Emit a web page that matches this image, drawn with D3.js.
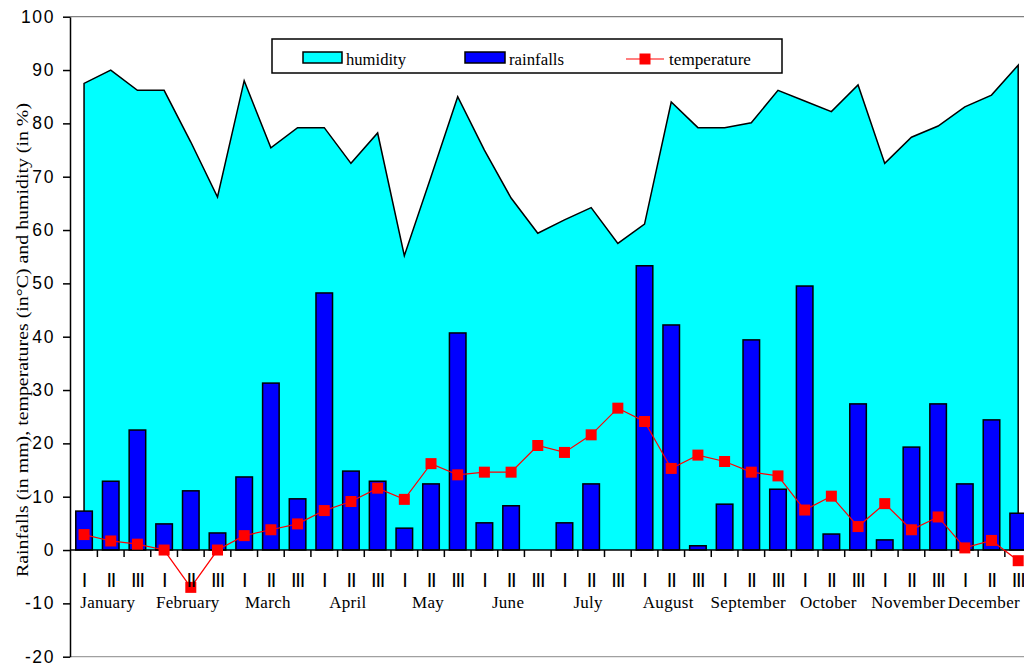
<!DOCTYPE html>
<html>
<head>
<meta charset="utf-8">
<script src="https://cdn.jsdelivr.net/npm/d3@7"></script>
<style>
  html, body { margin: 0; padding: 0; background: #fff; }
  svg { display: block; }
</style>
</head>
<body>
<svg id="chart" width="1024" height="666"></svg>
<script>
const months = ["January","February","March","April","May","June","July","August","September","October","November","December"];
const dekads = ["I","II","III"];
const yTicks = [-20,-10,0,10,20,30,40,50,60,70,80,90,100];

const rainfall = [7.3,12.9,22.5, 4.9,11.1,3.2, 13.7,31.3,9.6, 48.2,14.8,12.9,
                  4.1,12.4,40.7, 5.1,8.3,0, 5.1,12.4,0, 53.3,42.2,0.8,
                  8.6,39.4,11.4, 49.5,3.0,27.4, 1.9,19.3,27.4, 12.4,24.4,6.9];
const temperature = [2.9,1.7,1.1, 0,-7.0,0, 2.7,3.8,4.9, 7.4,9.1,11.6,
                     9.5,16.2,14.1, 14.6,14.6,19.6, 18.3,21.6,26.6, 24.1,15.3,17.8,
                     16.6,14.6,13.9, 7.5,10.1,4.4, 8.7,3.8,6.2, 0.4,1.8,-2.0];
const humidity = [87.5,90,86.2, 86.2,76.5,66.2, 88,75.4,79.2, 79.2,72.5,78.2,
                  55.2,70,85, 75,66,59.4, 61.9,64.2,57.5, 61.1,84,79.2,
                  79.2,80.1,86.2, 84.2,82.2,87.2, 72.5,77.4,79.5, 83.1,85.3,90.9];

const legendItems = ["humidity","rainfalls","temperature"];
const yTitle = "Rainfalls (in mm), temperatures (in\u00B0C) and humidity (in %)";

const categories = months.flatMap(m => dekads.map(d => m + " " + d));

const svg = d3.select("#chart");
const band = 26.69;
const x = d3.scaleBand().domain(categories).range([70.7, 70.7 + 36 * band]).padding(0);
const y = d3.scaleLinear().domain([-20, 100]).range([656.7, 16.7]);
const bw = x.bandwidth();
const cx = c => x(c) + bw / 2;

// plot border lines (top / bottom)
svg.append("line").attr("x1", 70).attr("x2", 1024).attr("y1", y(100)).attr("y2", y(100))
  .attr("stroke", "#808080").attr("stroke-width", 1.2);
svg.append("line").attr("x1", 70).attr("x2", 1024).attr("y1", y(-20)).attr("y2", y(-20))
  .attr("stroke", "#a0a0a0").attr("stroke-width", 1.2);

// humidity area
const area = d3.area()
  .x((d, i) => cx(categories[i]))
  .y0(y(0))
  .y1(d => y(d));
svg.append("path").datum(humidity).attr("d", area).attr("fill", "#00FFFF");
const outlinePts = [[cx(categories[0]), y(0)]]
  .concat(humidity.map((d, i) => [cx(categories[i]), y(d)]))
  .concat([[cx(categories[35]), y(0)]]);
svg.append("path").datum(outlinePts).attr("d", d3.line())
  .attr("fill", "none").attr("stroke", "#000").attr("stroke-width", 1.5);

// rainfall bars
svg.append("g").selectAll("rect").data(rainfall).join("rect")
  .attr("x", (d, i) => x(categories[i]) + bw * 0.19)
  .attr("width", bw * 0.62)
  .attr("y", d => y(d))
  .attr("height", d => y(0) - y(d))
  .attr("fill", "#0000FF")
  .attr("stroke", "#000")
  .attr("stroke-width", 1.5);

// x axis at zero
svg.append("line").attr("x1", 70).attr("x2", 1024).attr("y1", y(0)).attr("y2", y(0))
  .attr("stroke", "#000").attr("stroke-width", 1.5);
svg.append("g").selectAll("line").data(categories.slice(1)).join("line")
  .attr("x1", d => x(d)).attr("x2", d => x(d))
  .attr("y1", y(0)).attr("y2", y(0) + 7)
  .attr("stroke", "#000").attr("stroke-width", 1.5);

// temperature
const tLine = d3.line().x((d, i) => cx(categories[i])).y(d => y(d));
svg.append("path").datum(temperature).attr("d", tLine)
  .attr("fill", "none").attr("stroke", "#FF0000").attr("stroke-width", 1.2);
svg.append("g").selectAll("rect").data(temperature).join("rect")
  .attr("x", (d, i) => cx(categories[i]) - 5.5)
  .attr("y", d => y(d) - 5.5)
  .attr("width", 11).attr("height", 11)
  .attr("fill", "#FF0000");

// y axis
const yAxis = svg.append("g").attr("transform", "translate(70,0)")
  .call(d3.axisLeft(y).tickValues(yTicks).tickFormat(d => String(d))
    .tickSize(7).tickPadding(8).tickSizeOuter(0));
yAxis.select(".domain").attr("stroke", "#000").attr("stroke-width", 1.5);
yAxis.selectAll(".tick line").attr("stroke", "#000").attr("stroke-width", 1.5);
yAxis.selectAll(".tick text")
  .attr("font-family", "'Liberation Sans', Arial, sans-serif")
  .attr("font-size", 17.5)
  .attr("letter-spacing", "1.6px")
  .attr("fill", "#000");

// category labels
svg.append("g").selectAll("text").data(categories).join("text")
  .attr("x", d => cx(d))
  .attr("y", 587)
  .attr("text-anchor", "middle")
  .attr("font-family", "'Liberation Sans', Arial, sans-serif")
  .attr("font-size", 20)
  .attr("letter-spacing", "-1.2px")
  .attr("fill", "#000")
  .text((d, i) => dekads[i % 3]);

const monthLabels = svg.append("g").selectAll("text").data(months).join("text")
  .attr("x", m => cx(m + " II") - 3)
  .attr("y", 608)
  .attr("text-anchor", "middle")
  .attr("font-family", "'Liberation Serif', 'Times New Roman', serif")
  .attr("font-size", 17)
  .attr("letter-spacing", "0.3px")
  .attr("fill", "#000")
  .text(m => m);
// keep labels inside the picture
monthLabels.each(function() {
  const b = this.getBBox();
  const over = b.x + b.width - 1020;
  if (over > 0) d3.select(this).attr("x", +d3.select(this).attr("x") - over);
});

// y title
svg.append("text")
  .attr("transform", "translate(28,340) rotate(-90)")
  .attr("text-anchor", "middle")
  .attr("font-family", "'Liberation Serif', 'Times New Roman', serif")
  .attr("font-size", 17)
  .attr("textLength", 474)
  .attr("lengthAdjust", "spacingAndGlyphs")
  .attr("fill", "#000")
  .text(yTitle);

// legend
const lg = svg.append("g");
lg.append("rect").attr("x", 272).attr("y", 39).attr("width", 510).attr("height", 34)
  .attr("fill", "#fff").attr("stroke", "#000").attr("stroke-width", 1.5);
lg.append("rect").attr("x", 303).attr("y", 52).attr("width", 39).attr("height", 11)
  .attr("fill", "#00FFFF").attr("stroke", "#000").attr("stroke-width", 1.5);
lg.append("rect").attr("x", 465).attr("y", 52).attr("width", 40).attr("height", 11)
  .attr("fill", "#0000FF").attr("stroke", "#000").attr("stroke-width", 1.5);
lg.append("line").attr("x1", 626).attr("x2", 664).attr("y1", 59).attr("y2", 59)
  .attr("stroke", "#FF0000").attr("stroke-width", 1.2);
lg.append("rect").attr("x", 639.5).attr("y", 53.5).attr("width", 11).attr("height", 11)
  .attr("fill", "#FF0000");
const legendX = [346, 509, 669];
const legendW = [60, 55, 82];
lg.selectAll("text.lt").data(legendItems).join("text")
  .attr("class", "lt")
  .attr("x", (d, i) => legendX[i])
  .attr("y", 65)
  .attr("font-family", "'Liberation Serif', 'Times New Roman', serif")
  .attr("font-size", 17)
  .attr("textLength", (d, i) => legendW[i])
  .attr("lengthAdjust", "spacingAndGlyphs")
  .attr("fill", "#000")
  .text(d => d);
</script>
</body>
</html>
